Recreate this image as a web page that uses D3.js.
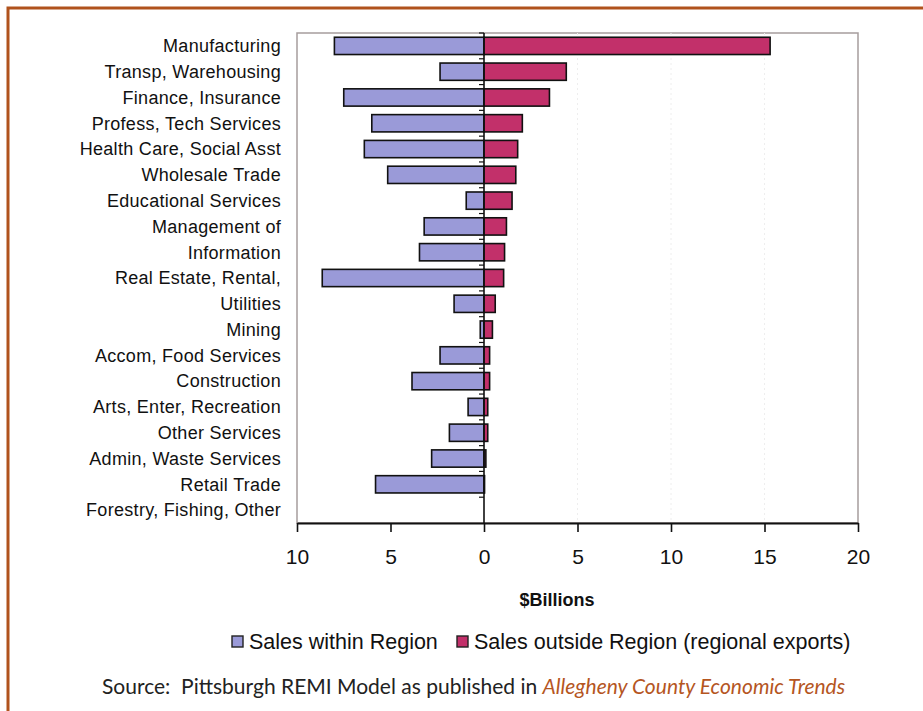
<!DOCTYPE html>
<html><head><meta charset="utf-8">
<script src="https://cdn.jsdelivr.net/npm/d3@7"></script>
<style>
html,body{margin:0;padding:0;background:#fff;}
svg{display:block;}
</style></head>
<body>
<svg id="chart" width="923" height="711"></svg>
<script>
const categories = ["Manufacturing","Transp, Warehousing","Finance, Insurance","Profess, Tech Services","Health Care, Social Asst","Wholesale Trade","Educational Services","Management of","Information","Real Estate, Rental,","Utilities","Mining","Accom, Food Services","Construction","Arts, Enter, Recreation","Other Services","Admin, Waste Services","Retail Trade","Forestry, Fishing, Other"];
const salesWithin = [8.0,2.35,7.5,6.0,6.4,5.15,0.95,3.2,3.45,8.65,1.6,0.2,2.35,3.85,0.85,1.85,2.8,5.8,0];
const salesOutside = [15.3,4.4,3.5,2.05,1.8,1.7,1.5,1.2,1.1,1.05,0.6,0.45,0.3,0.3,0.2,0.2,0.1,0.03,0];
const xTicks = [-10,-5,0,5,10,15,20];
const seriesNames = ["Sales within Region","Sales outside Region (regional exports)"];
const seriesColors = ["#9a9ad8","#c2306a"];

const svg = d3.select("#chart");
const L = 297, R = 858, T = 33, B = 523;
const x = d3.scaleLinear().domain([-10,20]).range([L,R]);
const y = d3.scaleBand().domain(categories).range([T,B]).paddingInner(0.33).paddingOuter(0.165);
const yb = d3.scaleBand().domain(categories).range([T,B]);

// outer frame
svg.append("path").attr("d",`M8,711 L8,8 L923,8`).attr("fill","none")
  .attr("stroke","#b0521c").attr("stroke-width",3);

// plot border
svg.append("rect").attr("x",L).attr("y",T).attr("width",R-L).attr("height",B-T)
  .attr("fill","#fff").attr("stroke","#a69d9d").attr("stroke-width",1.5);

// faint gridlines
svg.append("g").selectAll("line").data([5,10,15]).join("line")
  .attr("x1",d=>x(d)).attr("x2",d=>x(d)).attr("y1",T).attr("y2",B)
  .attr("stroke","#eeeeee").attr("stroke-dasharray","2,3");

// bars within (negative side)
svg.append("g").selectAll("rect").data(categories).join("rect")
  .attr("x",(d,i)=>x(-salesWithin[i])).attr("y",d=>y(d))
  .attr("width",(d,i)=>x(0)-x(-salesWithin[i])).attr("height",y.bandwidth())
  .attr("fill",seriesColors[0]).attr("stroke","#111").attr("stroke-width",(d,i)=>salesWithin[i]>0?1.6:0);

svg.append("g").selectAll("rect").data(categories).join("rect")
  .attr("x",x(0)).attr("y",d=>y(d))
  .attr("width",(d,i)=>x(salesOutside[i])-x(0)).attr("height",y.bandwidth())
  .attr("fill",seriesColors[1]).attr("stroke","#111").attr("stroke-width",(d,i)=>salesOutside[i]>0?1.6:0);

// zero axis with band ticks
svg.append("line").attr("x1",x(0)).attr("x2",x(0)).attr("y1",T).attr("y2",B)
  .attr("stroke","#111").attr("stroke-width",1.6);
svg.append("g").selectAll("line").data(categories).join("line")
  .attr("x1",x(0)-5).attr("x2",x(0)).attr("y1",d=>yb(d)).attr("y2",d=>yb(d))
  .attr("stroke","#111").attr("stroke-width",1.2);

// bottom axis
const xAxis = d3.axisBottom(x).tickValues(xTicks).tickFormat(d=>Math.abs(d)).tickSize(9).tickSizeOuter(0).tickPadding(17);
const gx = svg.append("g").attr("transform",`translate(0,${B})`).call(xAxis);
gx.select(".domain").attr("stroke","#111").attr("stroke-width",1.8);
gx.selectAll(".tick line").attr("stroke","#111").attr("stroke-width",1.6);
gx.selectAll(".tick text").attr("font-family","Liberation Sans, Arial, sans-serif").attr("font-size",21).attr("fill","#111");

svg.append("text").attr("x",557).attr("y",606).attr("text-anchor","middle")
  .attr("font-family","Liberation Sans, Arial, sans-serif").attr("font-size",18).attr("font-weight","bold")
  .attr("fill","#111").text("$Billions");

// category labels
svg.append("g").selectAll("text").data(categories).join("text")
  .attr("x",281).attr("y",d=>yb(d)+yb.bandwidth()/2).attr("dy","0.35em")
  .attr("text-anchor","end").attr("font-family","Liberation Sans, Arial, sans-serif")
  .attr("font-size",18).attr("letter-spacing","0.3px").attr("fill","#111").text(d=>d);

// legend
const lg = svg.append("g").attr("font-family","Liberation Sans, Arial, sans-serif").attr("font-size",21.5).attr("fill","#111");
const legX = [232,457];
seriesNames.forEach((n,i)=>{
  lg.append("rect").attr("x",legX[i]).attr("y",636).attr("width",11).attr("height",11)
    .attr("fill",seriesColors[i]).attr("stroke","#222").attr("stroke-width",1.4);
  lg.append("text").attr("x",legX[i]+17).attr("y",649).text(n);
});

// source
const src = svg.append("text").attr("x",102).attr("y",694).attr("font-family","Lato, 'Noto Sans', sans-serif").attr("font-size",21).attr("fill","#222");
src.append("tspan").attr("xml:space","preserve").text("Source:  Pittsburgh REMI Model as published in ");
src.append("tspan").attr("font-style","italic").attr("fill","#b5561f").text("Allegheny County Economic Trends");
</script>
</body></html>
